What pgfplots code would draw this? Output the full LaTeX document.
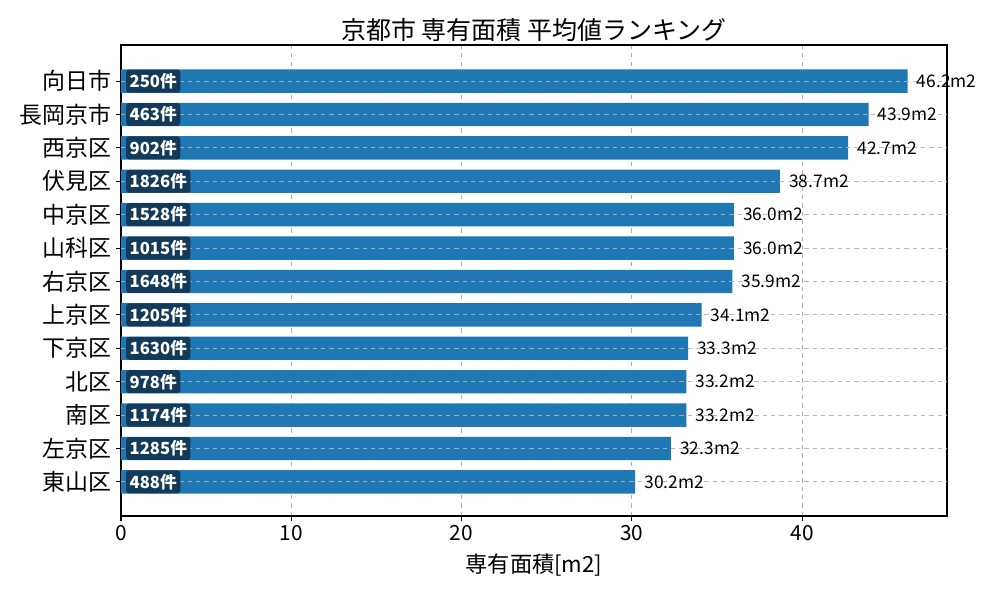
\documentclass[border=0pt]{standalone}
\usepackage{fontspec}
\setmainfont{Noto Sans CJK JP}
\usepackage{pgfplots}
\usepackage{pgfplotstable}
\pgfplotsset{compat=1.18}
\definecolor{barblue}{HTML}{1F77B4}
\definecolor{boxnavy}{HTML}{133A58}
\definecolor{gridgray}{HTML}{B0B0B0}

% i = row from the top, v = mean area [m2], c = number of listings
\pgfplotstableread{
i v c
0 46.2 250
1 43.9 463
2 42.7 902
3 38.7 1826
4 36.0 1528
5 36.0 1015
6 35.9 1648
7 34.1 1205
8 33.3 1630
9 33.2 978
10 33.2 1174
11 32.3 1285
12 30.2 488
}\data

\begin{document}
\begin{tikzpicture}
\begin{axis}[
  scale only axis, width=594.7pt, height=339.1pt,
  xmin=0, xmax=48.51, ymin=-1.08, ymax=13.02, y dir=reverse,
  xtick={0,10,20,30,40},
  ytick={0,...,12},
  yticklabels={向日市,長岡京市,西京区,伏見区,中京区,山科区,右京区,上京区,下京区,北区,南区,左京区,東山区},
  tick align=outside, tick pos=left, major tick length=3.5pt,
  tick style={black, line width=0.8pt},
  axis line style={line width=0.8pt},
  /pgf/number format/assume math mode=true,
  xticklabel style={font=\fontsize{15}{18}\selectfont},
  yticklabel style={font=\fontsize{16.5}{19}\selectfont},
  xmajorgrids, grid style={gridgray, dashed, line width=0.6pt},
  xlabel={専有面積[m2]}, xlabel style={font=\fontsize{16}{19}\selectfont, yshift=-2pt},
  title={京都市 専有面積 平均値ランキング}, title style={font=\fontsize{18}{21}\selectfont, yshift=-7pt},
  clip=false,
]
\addplot[xbar, fill=barblue, draw=none, bar width=0.7, point meta=x,
  nodes near coords={\pgfmathprintnumber[fixed,fixed zerofill,precision=1,assume math mode=true]{\pgfplotspointmeta}m2},
  nodes near coords style={anchor=west, inner sep=0pt, xshift=6.5pt, font=\fontsize{12.5}{14}\selectfont, black}]
  table[x=v, y=i] {\data};
% horizontal dashed guides drawn over the bars
\addplot[xcomb, gridgray, dashed, line width=0.6pt, opacity=0.9, mark=none, forget plot]
  table[x expr=48.51, y=i] {\data};
% count badges at the left end of each bar
\addplot[draw=none, mark=none, point meta=explicit symbolic,
  nodes near coords={\bfseries\pgfplotspointmeta 件},
  nodes near coords style={anchor=west, fill=boxnavy, text=white, rounded corners=2pt,
    inner xsep=2.5pt, inner ysep=0pt, minimum height=16.5pt, font=\fontsize{12}{14}\selectfont}]
  table[x expr=0.29, y=i, meta=c] {\data};
\path (current axis.south west) ++(-87.12pt,-60.48pt) coordinate (bbl)
      (current axis.north east) ++(38.16pt,32.4pt) coordinate (bur);
\useasboundingbox (bbl) rectangle (bur);
\end{axis}
\end{tikzpicture}
\end{document}
